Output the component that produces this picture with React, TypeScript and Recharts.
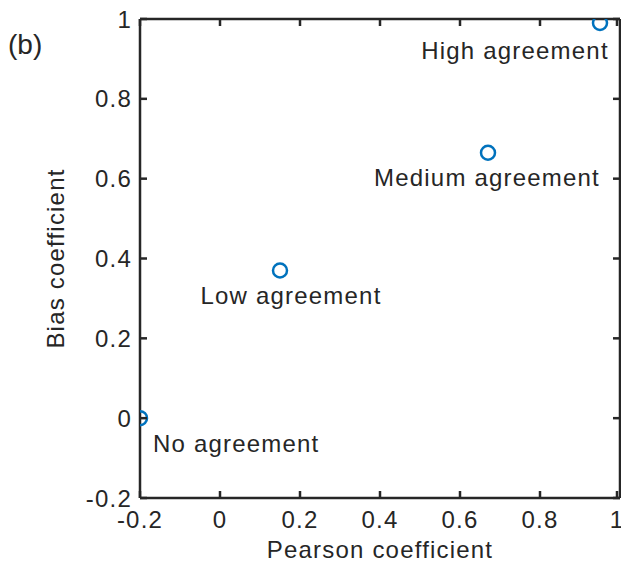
import { Scatter, ScatterChart, XAxis, YAxis } from "recharts";

const pearson = [-0.2, 0.15, 0.67, 0.95];
const bias = [0, 0.37, 0.665, 0.99];
const labels = ["No agreement", "Low agreement", "Medium agreement", "High agreement"];
const xTicks = [-0.2, 0, 0.2, 0.4, 0.6, 0.8, 1];
const yTicks = [-0.2, 0, 0.2, 0.4, 0.6, 0.8, 1];

const data = pearson.map((p, i) => ({ x: p, y: bias[i], name: labels[i] }));

const INK = "#262626";
const FONT = "'Liberation Sans', Arial, sans-serif";
const textStyle = { fontSize: 24, letterSpacing: 1.2, fontFamily: FONT, fill: INK };
const axisStroke = { stroke: INK, strokeWidth: 2.5 };
const TICK = 7;

const fmt = (v: number) => String(Math.round(v * 10) / 10);

// where each annotation sits relative to its marker
const labelShift: Record<string, [number, number, string]> = {
  "No agreement": [13, 25, "start"],
  "Low agreement": [11, 25, "middle"],
  "Medium agreement": [-1, 25, "middle"],
  "High agreement": [-85, 28, "middle"],
};

function Marker(props: any) {
  const { cx, cy, payload } = props;
  const [dx, dy, anchor] = labelShift[payload.name] ?? [0, 25, "middle"];
  return (
    <g>
      <circle cx={cx} cy={cy} r={7} fill="none" stroke="#0072BD" strokeWidth={2.5} />
      <text x={cx + dx} y={cy + dy} textAnchor={anchor} dominantBaseline="central" {...textStyle}>
        {payload.name}
      </text>
    </g>
  );
}

// tick mark pointing into the plot plus its label
function BottomTick({ x, y, payload }: any) {
  return (
    <g>
      <path d={`M${x},${y}v-${TICK}`} stroke={INK} strokeWidth={2.5} fill="none" />
      <text x={x} y={y + 21} textAnchor="middle" dominantBaseline="central" {...textStyle}>
        {fmt(payload.value)}
      </text>
    </g>
  );
}

function LeftTick({ x, y, payload }: any) {
  return (
    <g>
      <path d={`M${x},${y}h${TICK}`} stroke={INK} strokeWidth={2.5} fill="none" />
      <text x={x - 8} y={y} textAnchor="end" dominantBaseline="central" {...textStyle}>
        {fmt(payload.value)}
      </text>
    </g>
  );
}

function TopTick({ x, y }: any) {
  return <path d={`M${x},${y}v${TICK}`} stroke={INK} strokeWidth={2.5} fill="none" />;
}

function RightTick({ x, y }: any) {
  return <path d={`M${x},${y}h-${TICK}`} stroke={INK} strokeWidth={2.5} fill="none" />;
}

export default function App() {
  return (
    <div style={{ position: "fixed", left: 0, top: 0, width: 621, height: 565, background: "#fff" }}>
      <ScatterChart width={621} height={565} margin={{ top: 18, right: 0, left: 0, bottom: 0 }}>
        <XAxis
          xAxisId="b"
          type="number"
          dataKey="x"
          domain={[-0.2, 1]}
          ticks={xTicks}
          allowDataOverflow
          height={67}
          tickSize={0}
          tickMargin={0}
          tickLine={false}
          axisLine={axisStroke}
          tick={<BottomTick />}
          label={{ value: "Pearson coefficient", position: "insideBottom", offset: 7, ...textStyle }}
        />
        <XAxis
          xAxisId="t"
          orientation="top"
          type="number"
          dataKey="x"
          domain={[-0.2, 1]}
          ticks={xTicks}
          allowDataOverflow
          height={1}
          tickSize={0}
          tickMargin={0}
          tickLine={false}
          axisLine={axisStroke}
          tick={<TopTick />}
        />
        <YAxis
          yAxisId="l"
          type="number"
          dataKey="y"
          domain={[-0.2, 1]}
          ticks={yTicks}
          allowDataOverflow
          width={140}
          tickSize={0}
          tickMargin={0}
          tickLine={false}
          axisLine={axisStroke}
          tick={<LeftTick />}
          label={{ value: "Bias coefficient", angle: -90, position: "insideLeft", offset: 55, ...textStyle, style: { textAnchor: "middle" } }}
        />
        <YAxis
          yAxisId="r"
          orientation="right"
          type="number"
          dataKey="y"
          domain={[-0.2, 1]}
          ticks={yTicks}
          allowDataOverflow
          width={1}
          tickSize={0}
          tickMargin={0}
          tickLine={false}
          axisLine={axisStroke}
          tick={<RightTick />}
        />
        <Scatter data={data} xAxisId="b" yAxisId="l" shape={<Marker />} isAnimationActive={false} />
        <text x={8} y={44} dominantBaseline="central" fontSize={28} fontFamily={FONT} fill={INK}>
          (b)
        </text>
      </ScatterChart>
    </div>
  );
}
